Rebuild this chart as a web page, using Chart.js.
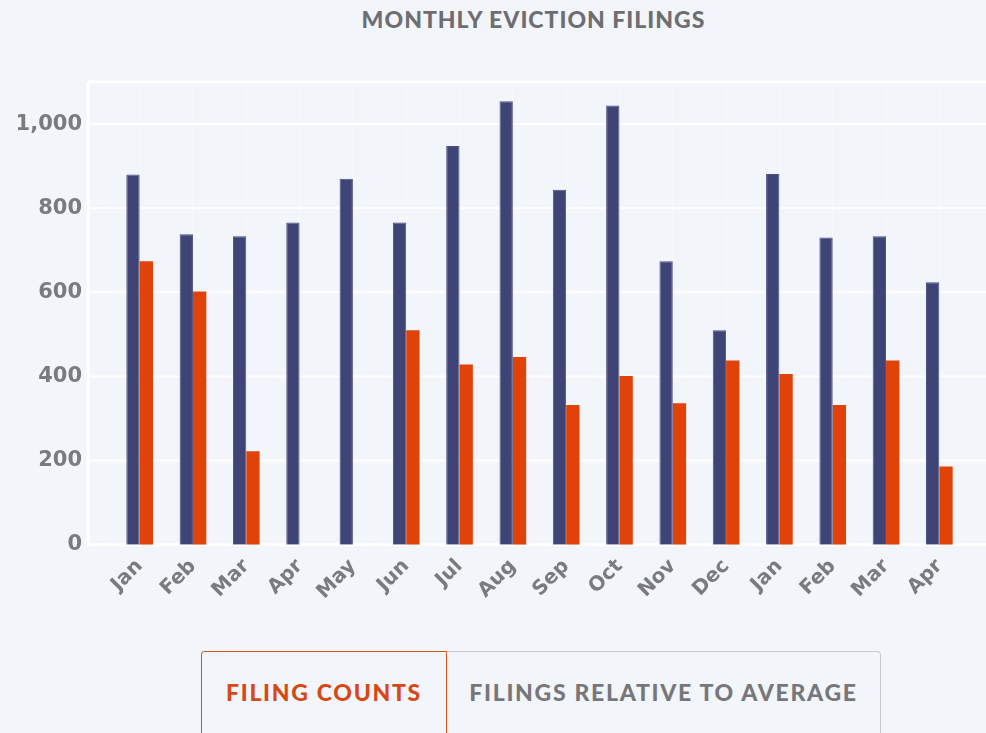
<!DOCTYPE html>
<html>
<head>
<meta charset="utf-8">
<title>Monthly Eviction Filings</title>
<script src="https://cdn.jsdelivr.net/npm/chart.js@4.4.1/dist/chart.umd.min.js"></script>
<style>
    html, body {
        margin: 0;
        padding: 0;
        width: 986px;
        height: 733px;
        overflow: hidden;
        background: #f2f5f9;
        font-family: Lato, "Open Sans", sans-serif;
    }
    #chart-title {
        position: absolute;
        top: 5px;
        left: 0;
        width: 1067px;
        text-align: center;
        color: #6e6e72;
        font-size: 23px;
        font-weight: 900;
        letter-spacing: 1px;
    }
    #chart-box {
        position: absolute;
        top: 0;
        left: 0;
        width: 986px;
        height: 630px;
    }
    #toggle {
        position: absolute;
        left: 201px;
        top: 651px;
        width: 680px;
        height: 100px;
        display: flex;
    }
    #toggle div {
        box-sizing: border-box;
        height: 100%;
        padding-top: 26px;
        text-align: center;
        font-size: 23px;
        font-weight: 900;
        letter-spacing: 1.7px;
    }
    #btn-counts {
        width: 246px;
        border: 1px solid #d4541f;
        border-radius: 3px 0 0 0;
        color: #d84816;
    }
    #btn-relative {
        flex: 1;
        border: 1px solid #c9cacf;
        border-left: none;
        border-radius: 0 4px 0 0;
        color: #77777b;
    }
</style>
</head>
<body>
<div id="chart-title">MONTHLY EVICTION FILINGS</div>
<div id="chart-box"><canvas id="filingsChart"></canvas></div>
<div id="toggle">
    <div id="btn-counts">FILING COUNTS</div>
    <div id="btn-relative">FILINGS RELATIVE TO AVERAGE</div>
</div>

<script>
// month labels (two years shown back to back)
const months = ['Jan', 'Feb', 'Mar', 'Apr', 'May', 'Jun', 'Jul', 'Aug', 'Sep', 'Oct', 'Nov', 'Dec', 'Jan', 'Feb', 'Mar', 'Apr'];

// average filings per month (navy bars)
const averageFilings = [880, 738, 733, 766, 870, 766, 948, 1054, 844, 1044, 674, 510, 881, 730, 733, 624];

// current filings (orange bars) - no data for Apr / May
const currentFilings = [674, 602, 222, null, null, 510, 428, 446, 332, 401, 336, 438, 406, 332, 438, 186];

const yTickStep = 200;
const yMax = 1100;

// white frame + horizontal grid lines, slightly wider than the bar area
const plotFrame = {
    id: 'plotFrame',
    beforeDatasetsDraw(chart) {
        const { ctx, chartArea, scales } = chart;
        const y = scales.y;
        const left = chartArea.left - 25;
        const right = chartArea.right + 20;
        ctx.save();
        ctx.strokeStyle = '#ffffff';
        y.ticks.forEach(t => {
            const py = y.getPixelForValue(t.value);
            ctx.lineWidth = (t.value === 0 || t.value === yMax) ? 3 : 2;
            ctx.beginPath();
            ctx.moveTo(left, py);
            ctx.lineTo(right, py);
            ctx.stroke();
        });
        // left edge
        ctx.lineWidth = 3;
        ctx.beginPath();
        ctx.moveTo(left, y.getPixelForValue(yMax));
        ctx.lineTo(left, y.getPixelForValue(0) + 1.5);
        ctx.stroke();
        ctx.restore();
    }
};

const ctx = document.getElementById('filingsChart').getContext('2d');
new Chart(ctx, {
    type: 'bar',
    data: {
        labels: months,
        datasets: [
            {
                label: 'Average filings',
                data: averageFilings,
                backgroundColor: '#3f4477',
                borderColor: '#4b5083',
                borderWidth: 1,
                categoryPercentage: 0.5,
                barPercentage: 1.0
            },
            {
                label: 'Filings',
                data: currentFilings,
                backgroundColor: '#e1420a',
                categoryPercentage: 0.5,
                barPercentage: 1.0
            }
        ]
    },
    options: {
        responsive: true,
        maintainAspectRatio: false,
        animation: false,
        layout: {
            padding: { top: 82, left: 18, right: 20, bottom: 16 }
        },
        plugins: {
            legend: { display: false },
            tooltip: { enabled: false }
        },
        scales: {
            x: {
                // rotated labels would otherwise push the plot to the right
                afterFit(scale) {
                    scale.paddingLeft = 0;
                    scale.paddingRight = 0;
                },
                grid: {
                    display: true,
                    offset: false,
                    drawTicks: false,
                    color: 'rgba(255,255,255,0.35)',
                    lineWidth: 1
                },
                border: { display: false },
                ticks: {
                    autoSkip: false,
                    minRotation: 45,
                    maxRotation: 45,
                    padding: 10,
                    color: '#7b7b7f',
                    font: { family: '"DejaVu Sans"', size: 20, weight: 'bold' }
                }
            },
            y: {
                min: 0,
                max: yMax,
                // chart.js counts the tick padding twice; keep the axis narrow
                afterFit(scale) {
                    scale.width = 95;
                },
                grid: { display: false, drawTicks: false },
                border: { display: false },
                ticks: {
                    stepSize: yTickStep,
                    padding: 31,
                    color: '#7b7b7f',
                    font: { family: '"DejaVu Sans"', size: 21, weight: 'bold' },
                    callback: v => (v === yMax ? '' : v.toLocaleString('en-US'))
                }
            }
        }
    },
    plugins: [plotFrame]
});
</script>
</body>
</html>
